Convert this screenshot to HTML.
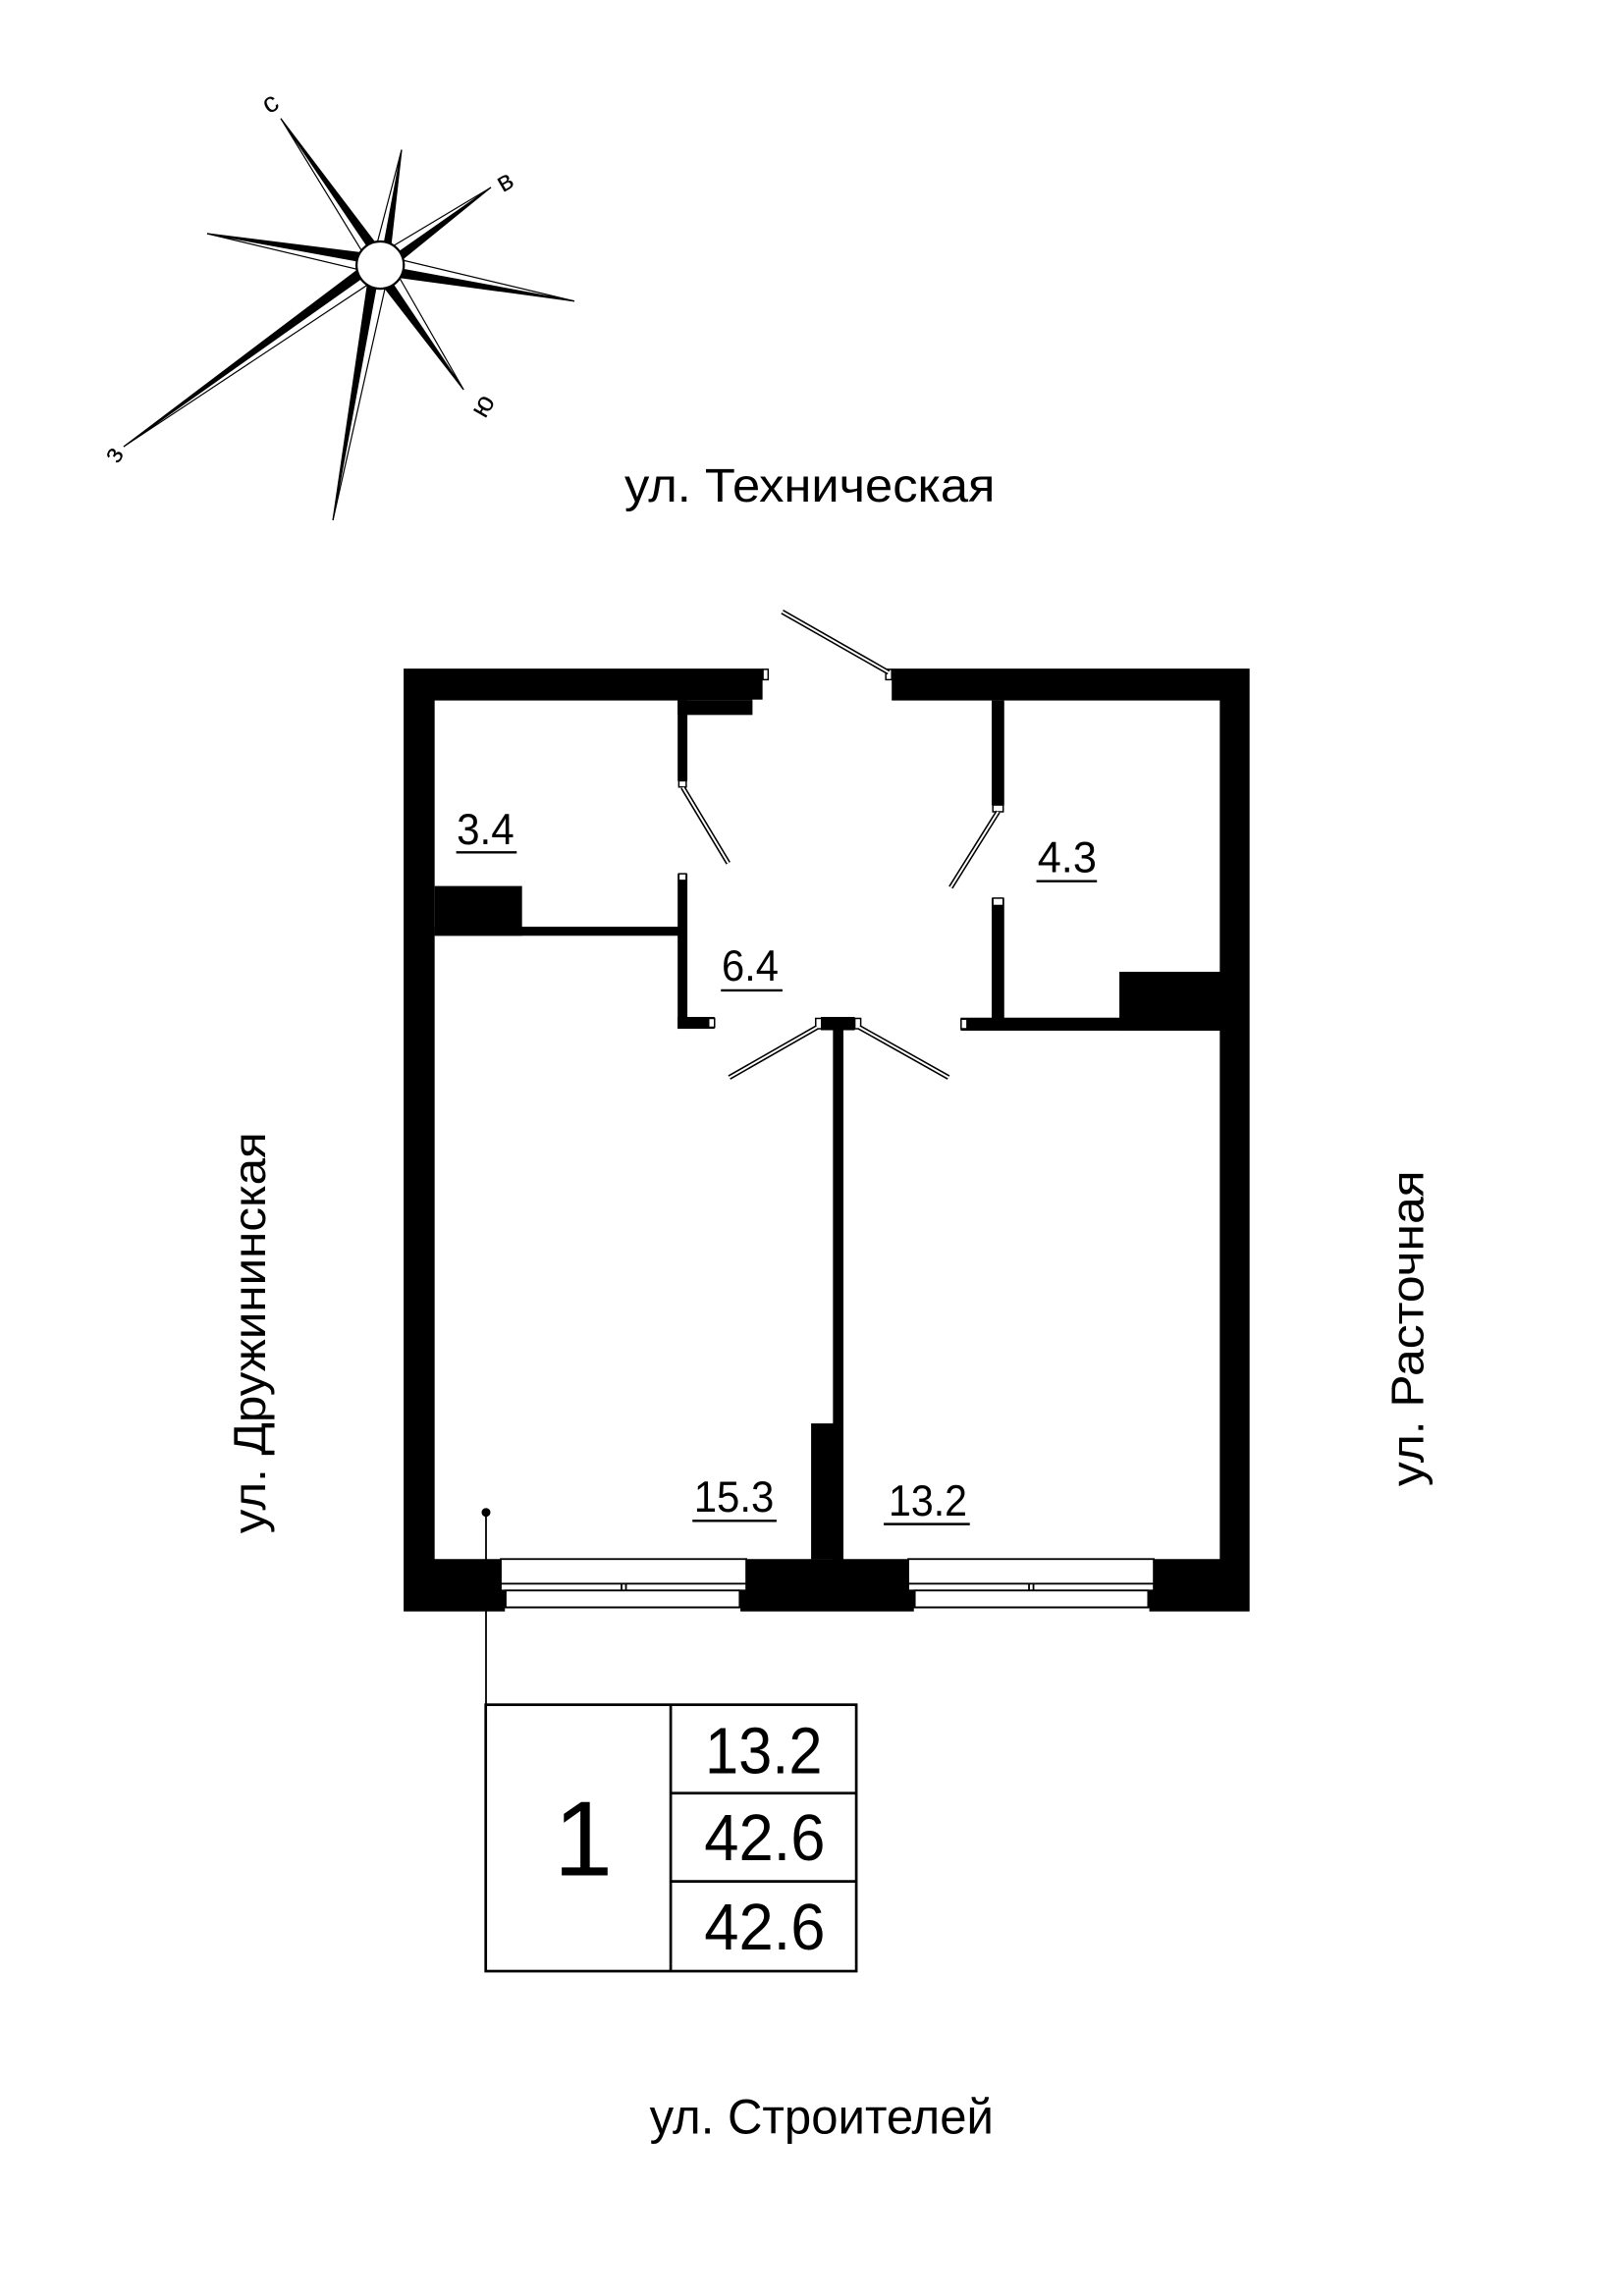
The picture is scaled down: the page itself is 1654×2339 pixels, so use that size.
<!DOCTYPE html>
<html><head><meta charset="utf-8">
<style>
html,body{margin:0;padding:0;background:#fff;}
svg{display:block;}
text{font-family:"Liberation Sans","DejaVu Sans",sans-serif;fill:#000;}
</style></head>
<body>
<svg width="1654" height="2339" viewBox="0 0 1100 1555.6" preserveAspectRatio="none" xmlns="http://www.w3.org/2000/svg">
<rect x="0" y="0" width="1100" height="1555.6" fill="#fff"/>

<!-- Compass -->
<g stroke="#000" stroke-width="0.8" stroke-linejoin="miter">
  <polygon points="257.5,179.6 190.2,80.3 262,175" fill="#000"/>
  <polygon points="257.5,179.6 190.2,80.3 253,183" fill="#fff"/>
  <polygon points="257.5,179.6 272,101.5 263,181" fill="#000"/>
  <polygon points="257.5,179.6 272,101.5 252,178" fill="#fff"/>
  <polygon points="257.5,179.6 332.5,127 261,185" fill="#000"/>
  <polygon points="257.5,179.6 332.5,127 254,174" fill="#fff"/>
  <polygon points="257.5,179.6 389,204 256,186" fill="#000"/>
  <polygon points="257.5,179.6 389,204 259,173" fill="#fff"/>
  <polygon points="257.5,179.6 314,264 252,184" fill="#000"/>
  <polygon points="257.5,179.6 314,264 263,175" fill="#fff"/>
  <polygon points="257.5,179.6 225.5,352.5 251,179" fill="#000"/>
  <polygon points="257.5,179.6 225.5,352.5 264,181" fill="#fff"/>
  <polygon points="257.5,179.6 83.8,302.6 254,174" fill="#000"/>
  <polygon points="257.5,179.6 83.8,302.6 261,185" fill="#fff"/>
  <polygon points="257.5,179.6 140.3,158.3 258,173" fill="#000"/>
  <polygon points="257.5,179.6 140.3,158.3 257,186" fill="#fff"/>
  <circle cx="257.5" cy="179.6" r="16" fill="#fff" stroke-width="1.5"/>
</g>
<text x="183" y="76" font-size="19" text-anchor="middle" transform="rotate(-30 183 70)">с</text>
<text x="342" y="129" font-size="19" text-anchor="middle" transform="rotate(-30 342 123)">в</text>
<text x="327" y="281" font-size="19" text-anchor="middle" transform="rotate(-60 327 275)">ю</text>
<text x="77" y="314" font-size="19" text-anchor="middle" transform="rotate(-60 77 308)">з</text>

<!-- Street labels -->
<text x="423" y="340" font-size="32" textLength="251" lengthAdjust="spacingAndGlyphs">ул. Техническая</text>
<text x="440" y="1445.4" font-size="33" textLength="233" lengthAdjust="spacingAndGlyphs">ул. Строителей</text>
<text x="0" y="0" font-size="31" textLength="272" lengthAdjust="spacingAndGlyphs" transform="translate(179.6 1039) rotate(-90)">ул. Дружининская</text>
<text x="0" y="0" font-size="31" textLength="214" lengthAdjust="spacingAndGlyphs" transform="translate(964 1007) rotate(-90)">ул. Расточная</text>

<!-- Outer walls -->
<rect x="273.4" y="453" width="573" height="638.8" fill="#000"/>
<rect x="294.4" y="474.6" width="531.8" height="581.7" fill="#fff"/>
<!-- entrance gap -->
<rect x="516.5" y="451" width="87.5" height="25" fill="#fff"/>
<rect x="516.8" y="453.5" width="3.5" height="7" fill="#fff" stroke="#000" stroke-width="1"/>
<rect x="600" y="453.5" width="4" height="7" fill="#fff" stroke="#000" stroke-width="1"/>
<rect x="509.7" y="474" width="8" height="11" fill="#fff"/>

<!-- interior walls -->
<g fill="#000">
  <rect x="459" y="474.6" width="50.7" height="9.8"/>
  <rect x="459" y="474.6" width="6.6" height="54.5"/>
  <rect x="459" y="592" width="6.6" height="105"/>
  <rect x="459" y="689" width="25" height="8"/>
  <rect x="294.4" y="627.9" width="165" height="6.1"/>
  <rect x="294.4" y="600.3" width="59.2" height="33.7"/>
  <rect x="671.7" y="474.6" width="8.5" height="71"/>
  <rect x="671.7" y="608.5" width="8.5" height="82"/>
  <rect x="650.7" y="689.5" width="176" height="8.8"/>
  <rect x="758.2" y="658.4" width="68.5" height="39.9"/>
  <rect x="556" y="689" width="23" height="9"/>
  <rect x="564.2" y="697" width="7.1" height="360"/>
  <rect x="549.4" y="964.4" width="15" height="92"/>
</g>
<!-- jambs -->
<g fill="#fff" stroke="#000" stroke-width="1">
  <rect x="459.8" y="529" width="5" height="4.2"/>
  <rect x="459.8" y="592" width="5" height="4.5"/>
  <rect x="480" y="690" width="4" height="6"/>
  <rect x="672.5" y="545.4" width="7" height="4.6"/>
  <rect x="672.5" y="608.5" width="7" height="5"/>
  <rect x="651" y="690.5" width="4" height="6.5"/>
  <rect x="552.5" y="690" width="4" height="7"/>
  <rect x="579" y="690" width="4" height="7"/>
</g>

<!-- door leaves -->
<g stroke-linecap="butt">
  <g stroke="#000" stroke-width="3.4">
    <line x1="601.9" y1="455.6" x2="529.8" y2="414.5"/>
    <line x1="462.5" y1="533.5" x2="493.3" y2="584.8"/>
    <line x1="676" y1="550" x2="644" y2="601.2"/>
    <line x1="553.5" y1="696" x2="494" y2="730"/>
    <line x1="582" y1="696" x2="642.5" y2="730"/>
  </g>
  <g stroke="#fff" stroke-width="1.3">
    <line x1="601.9" y1="455.6" x2="529.8" y2="414.5"/>
    <line x1="462.5" y1="533.5" x2="493.3" y2="584.8"/>
    <line x1="676" y1="550" x2="644" y2="601.2"/>
    <line x1="553.5" y1="696" x2="494" y2="730"/>
    <line x1="582" y1="696" x2="642.5" y2="730"/>
  </g>
</g>

<!-- windows -->
<g fill="#fff" stroke="#000" stroke-width="1.2">
  <rect x="339.2" y="1056.3" width="166.3" height="16.7"/>
  <rect x="339.2" y="1073" width="166.3" height="4.6"/>
  <line x1="421" y1="1073" x2="421" y2="1077.6"/>
  <line x1="424" y1="1073" x2="424" y2="1077.6"/>
  <rect x="342.5" y="1077.6" width="158.5" height="11.4"/>
  <rect x="615.2" y="1056.3" width="166.3" height="16.7"/>
  <rect x="615.2" y="1073" width="166.3" height="4.6"/>
  <line x1="697" y1="1073" x2="697" y2="1077.6"/>
  <line x1="700" y1="1073" x2="700" y2="1077.6"/>
  <rect x="619.6" y="1077.6" width="158.1" height="11.4"/>
</g>
<rect x="342" y="1089.7" width="159.5" height="3" fill="#fff"/>
<rect x="619" y="1089.7" width="159.5" height="3" fill="#fff"/>

<!-- room labels -->
<g font-size="29.5">
  <text x="309.3" y="572" textLength="39" lengthAdjust="spacingAndGlyphs">3.4</text>
  <text x="702.8" y="590.8" textLength="40" lengthAdjust="spacingAndGlyphs">4.3</text>
  <text x="488.8" y="664.4" textLength="38.6" lengthAdjust="spacingAndGlyphs">6.4</text>
  <text x="470" y="1024.2" textLength="54.3" lengthAdjust="spacingAndGlyphs">15.3</text>
  <text x="601.9" y="1026.9" textLength="53.2" lengthAdjust="spacingAndGlyphs">13.2</text>
</g>
<g stroke="#000" stroke-width="1.6">
  <line x1="309" y1="577.5" x2="350" y2="577.5"/>
  <line x1="702" y1="597" x2="743" y2="597"/>
  <line x1="488.3" y1="671" x2="530" y2="671"/>
  <line x1="469" y1="1030.4" x2="526" y2="1030.4"/>
  <line x1="598.6" y1="1032.6" x2="656.9" y2="1032.6"/>
</g>

<!-- pointer -->
<circle cx="329.2" cy="1024.7" r="3" fill="#000"/>
<line x1="329.2" y1="1024.7" x2="329.2" y2="1155" stroke="#000" stroke-width="1.2"/>

<!-- table -->
<g fill="none" stroke="#000" stroke-width="1.8">
  <rect x="329" y="1155" width="251" height="180.5"/>
  <line x1="454.3" y1="1155" x2="454.3" y2="1335.5"/>
  <line x1="454.3" y1="1214.9" x2="580" y2="1214.9"/>
  <line x1="454.3" y1="1274.7" x2="580" y2="1274.7"/>
</g>
<text x="375" y="1270.7" font-size="72">1</text>
<g font-size="44.5">
  <text x="477.5" y="1201.6" textLength="79.5" lengthAdjust="spacingAndGlyphs">13.2</text>
  <text x="477" y="1260.3" textLength="82" lengthAdjust="spacingAndGlyphs">42.6</text>
  <text x="477" y="1320.9" textLength="82" lengthAdjust="spacingAndGlyphs">42.6</text>
</g>
</svg>
</body></html>
